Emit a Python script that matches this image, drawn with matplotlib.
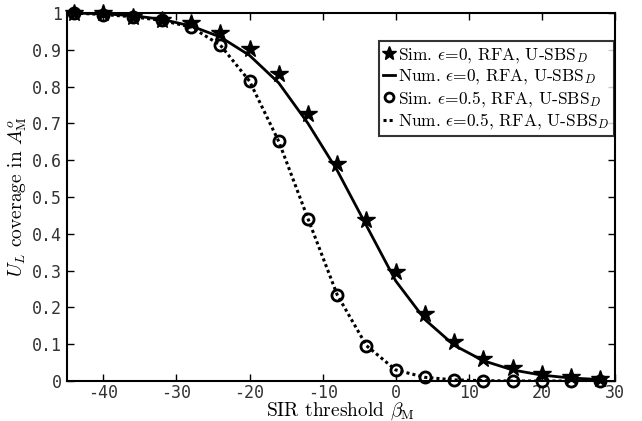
import matplotlib
matplotlib.use("Agg")
import matplotlib.pyplot as plt

plt.rcParams['mathtext.fontset'] = 'cm'
plt.rcParams['font.family'] = ['cmr10', 'DejaVu Serif']
plt.rcParams['axes.formatter.use_mathtext'] = True

x = [-44, -40, -36, -32, -28, -24, -20, -16, -12, -8, -4, 0, 4, 8, 12, 16, 20, 24, 28]
sim_eps0 = [1.0, 1.0, 0.99, 0.982, 0.973, 0.945, 0.903, 0.833, 0.725, 0.59, 0.438, 0.296, 0.182, 0.106, 0.06, 0.035, 0.019, 0.01, 0.005]
num_eps0 = [1.0, 0.998, 0.993, 0.983, 0.965, 0.935, 0.885, 0.81, 0.70, 0.572, 0.422, 0.272, 0.167, 0.097, 0.055, 0.03, 0.016, 0.008, 0.004]
sim_eps05 = [1.0, 0.996, 0.99, 0.98, 0.962, 0.913, 0.815, 0.651, 0.441, 0.234, 0.096, 0.03, 0.01, 0.003, 0.001, 0.0, 0.0, 0.0, 0.0]
num_eps05 = [1.0, 0.996, 0.99, 0.98, 0.962, 0.913, 0.815, 0.651, 0.441, 0.234, 0.096, 0.03, 0.01, 0.003, 0.001, 0.0, 0.0, 0.0, 0.0]

labels = [r'Sim. $\epsilon$=0, RFA, U-SBS$_D$',
          r'Num. $\epsilon$=0, RFA, U-SBS$_D$',
          r'Sim. $\epsilon$=0.5, RFA, U-SBS$_D$',
          r'Num. $\epsilon$=0.5, RFA, U-SBS$_D$']

xticks = [-40, -30, -20, -10, 0, 10, 20, 30]
yticks = [0, 0.1, 0.2, 0.3, 0.4, 0.5, 0.6, 0.7, 0.8, 0.9, 1]
ytick_labels = ['0', '0.1', '0.2', '0.3', '0.4', '0.5', '0.6', '0.7', '0.8', '0.9', '1']

fig = plt.figure(figsize=(6.42, 4.21), dpi=100)
ax = fig.add_axes([0.104, 0.095, 0.854, 0.874])

ax.plot(x, sim_eps0, linestyle='none', marker='*', color='black', markersize=13, label=labels[0], clip_on=False)
ax.plot(x, num_eps0, linestyle='-', color='black', linewidth=2, label=labels[1])
ax.plot(x, sim_eps05, linestyle='none', marker='o', markerfacecolor='none', markeredgecolor='black',
        markeredgewidth=2, markersize=8, label=labels[2], clip_on=False)
ax.plot(x, num_eps05, linestyle=(0, (1, 1)), color='black', linewidth=2.2, label=labels[3])

ax.set_xlim(-45, 30)
ax.set_ylim(0, 1)
ax.set_xticks(xticks)
ax.set_xticklabels([str(t) for t in xticks], family='DejaVu Sans Mono', fontsize=12, color='#333333')
ax.set_yticks(yticks)
ax.set_yticklabels(ytick_labels, family='DejaVu Sans Mono', fontsize=12, color='#333333')
ax.tick_params(direction='in', top=True, right=True, length=5, width=1)
ax.tick_params(axis='x', pad=2)
for s in ax.spines.values():
    s.set_linewidth(1.5)

ax.set_xlabel(r'SIR threshold $\beta_{\rm M}$', fontsize=14)
ax.xaxis.set_label_coords(0.5, -0.052, transform=ax.transAxes)
ax.xaxis.label.set_verticalalignment('top')
ax.set_ylabel(r'$U_L$ coverage in $A_{\rm M}^o$', fontsize=14, labelpad=2)

leg = ax.legend(loc='upper right', bbox_to_anchor=(0.998, 0.923), borderaxespad=0,
                fontsize=12.5, frameon=True, fancybox=False, edgecolor='black',
                handlelength=0.7, handletextpad=0.15, borderpad=0.25, labelspacing=0.15,
                markerscale=0.8)
leg.get_frame().set_linewidth(1.5)

fig.savefig('out.png', dpi=100)
